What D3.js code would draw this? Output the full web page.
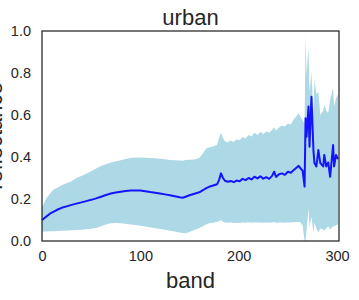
<!DOCTYPE html>
<html>
<head>
<meta charset="utf-8">
<script src="https://cdn.jsdelivr.net/npm/d3@7"></script>
<style>
  body { margin: 0; background: #fff; }
  text { font-family: "Liberation Sans", Arial, sans-serif; fill: #262626; }
</style>
</head>
<body>
<div id="chart"></div>
<script>
// band index, mean reflectance and the lower / upper edge of the shaded range
const bands = [0, 4, 8, 12, 16, 20, 25, 30, 35, 40, 45, 50, 55, 60, 65, 70, 75, 80, 85, 90, 95, 100,
  105, 110, 115, 120, 125, 130, 135, 140, 143, 146, 150, 155, 160, 164, 167, 170, 174, 178, 180,
  182, 184, 186, 189, 192, 195, 198, 201, 204, 207, 210, 213, 216, 219, 222, 225, 228, 231, 234,
  236, 238, 241, 244, 247, 250, 253, 256, 259, 261, 263, 265, 267, 268, 269, 271, 272, 274, 276,
  277, 279, 281, 283, 286, 287, 289, 291, 293, 296, 297, 299, 301];
const meanVals = [0.10, 0.115, 0.13, 0.14, 0.15, 0.158, 0.165, 0.172, 0.178, 0.184, 0.19, 0.196,
  0.203, 0.211, 0.219, 0.226, 0.231, 0.235, 0.238, 0.24, 0.241, 0.24, 0.237, 0.233, 0.23, 0.226,
  0.222, 0.218, 0.213, 0.208, 0.206, 0.211, 0.218, 0.225, 0.232, 0.243, 0.252, 0.258, 0.264, 0.27,
  0.29, 0.322, 0.30, 0.287, 0.282, 0.286, 0.28, 0.288, 0.284, 0.296, 0.29, 0.30, 0.293, 0.306,
  0.298, 0.308, 0.297, 0.304, 0.296, 0.31, 0.33, 0.305, 0.318, 0.322, 0.315, 0.33, 0.325, 0.338,
  0.35, 0.358, 0.345, 0.335, 0.259, 0.584, 0.497, 0.64, 0.449, 0.687, 0.433, 0.371, 0.355, 0.433,
  0.371, 0.355, 0.41, 0.355, 0.374, 0.306, 0.457, 0.355, 0.41, 0.39];
const lowVals = [0.045, 0.045, 0.046, 0.047, 0.048, 0.049, 0.05, 0.051, 0.052, 0.054, 0.056, 0.058,
  0.062, 0.07, 0.078, 0.085, 0.086, 0.084, 0.082, 0.079, 0.076, 0.073, 0.069, 0.065, 0.061, 0.057,
  0.053, 0.049, 0.045, 0.041, 0.038, 0.037, 0.043, 0.052, 0.062, 0.072, 0.08, 0.085, 0.087, 0.09,
  0.095, 0.10, 0.092, 0.088, 0.087, 0.088, 0.086, 0.087, 0.086, 0.088, 0.087, 0.089, 0.087, 0.089,
  0.088, 0.088, 0.087, 0.088, 0.087, 0.088, 0.09, 0.087, 0.088, 0.088, 0.087, 0.088, 0.088, 0.089,
  0.09, 0.09, 0.088, 0.075, 0.0, 0.0, 0.052, 0.156, 0.068, 0.116, 0.04, 0.087, 0.06, 0.04, 0.06,
  0.055, 0.05, 0.06, 0.07, 0.055, 0.07, 0.07, 0.075, 0.08];
const highVals = [0.16, 0.20, 0.225, 0.245, 0.255, 0.265, 0.275, 0.285, 0.30, 0.31, 0.32, 0.332,
  0.345, 0.357, 0.366, 0.374, 0.38, 0.385, 0.39, 0.395, 0.398, 0.398, 0.396, 0.395, 0.394, 0.392,
  0.389, 0.386, 0.384, 0.383, 0.382, 0.386, 0.387, 0.388, 0.395, 0.42, 0.44, 0.445, 0.45, 0.458,
  0.49, 0.515, 0.49, 0.475, 0.47, 0.478, 0.472, 0.485, 0.48, 0.495, 0.488, 0.505, 0.498, 0.515,
  0.505, 0.52, 0.51, 0.522, 0.515, 0.53, 0.54, 0.525, 0.54, 0.55, 0.545, 0.56, 0.555, 0.58, 0.595,
  0.608, 0.59, 0.575, 0.56, 0.98, 0.79, 0.925, 0.71, 0.80, 0.61, 0.767, 0.70, 0.71, 0.60, 0.62,
  0.65, 0.62, 0.61, 0.67, 0.73, 0.64, 0.68, 0.70];
const xTicks = [0, 100, 200, 300];
const yTicks = [0, 0.2, 0.4, 0.6, 0.8, 1.0];

const width = 359, height = 300;
const margin = { top: 31, right: 20, bottom: 59, left: 42 };

const data = bands.map((b, i) => ({ band: b, mean: meanVals[i], lo: lowVals[i], hi: highVals[i] }));

const svg = d3.select('#chart').append('svg')
  .attr('width', width)
  .attr('height', height);

const x = d3.scaleLinear()
  .domain([0, 302])
  .range([margin.left, width - margin.right]);

const y = d3.scaleLinear()
  .domain([0, 1])
  .range([height - margin.bottom, margin.top]);

svg.append('path')
  .datum(data)
  .attr('fill', '#add8e6')
  .attr('d', d3.area().x(d => x(d.band)).y0(d => y(d.lo)).y1(d => y(d.hi)));

svg.append('path')
  .datum(data)
  .attr('fill', 'none')
  .attr('stroke', '#1414ff')
  .attr('stroke-width', 2)
  .attr('stroke-linejoin', 'round')
  .attr('d', d3.line().x(d => x(d.band)).y(d => y(d.mean)));

// frame
svg.append('rect')
  .attr('x', margin.left)
  .attr('y', margin.top)
  .attr('width', width - margin.right - margin.left)
  .attr('height', height - margin.bottom - margin.top)
  .attr('fill', 'none')
  .attr('stroke', '#262626')
  .attr('stroke-width', 1.25);

svg.append('g')
  .attr('transform', `translate(0,${height - margin.bottom})`)
  .call(d3.axisBottom(x).tickValues(xTicks).tickSize(0).tickPadding(10).tickFormat(d3.format('d')))
  .call(g => g.select('.domain').remove())
  .call(g => g.selectAll('text').attr('font-size', 14.5).attr('fill', '#262626')
    .attr('font-family', '"Liberation Sans", Arial, sans-serif'));

svg.append('g')
  .attr('transform', `translate(${margin.left},0)`)
  .call(d3.axisLeft(y).tickValues(yTicks).tickSize(0).tickPadding(11).tickFormat(d3.format('.1f')))
  .call(g => g.select('.domain').remove())
  .call(g => g.selectAll('text').attr('font-size', 14.5).attr('fill', '#262626')
    .attr('font-family', '"Liberation Sans", Arial, sans-serif'));

const cx = (margin.left + width - margin.right) / 2;

svg.append('text')
  .attr('x', cx)
  .attr('y', 25)
  .attr('text-anchor', 'middle')
  .attr('font-size', 22)
  .text('urban');

svg.append('text')
  .attr('x', cx)
  .attr('y', 288)
  .attr('text-anchor', 'middle')
  .attr('font-size', 22)
  .text('band');

// the y label sits mostly off the left edge, as in the original
svg.append('text')
  .attr('transform', `translate(2,${(margin.top + height - margin.bottom) / 2}) rotate(-90)`)
  .attr('text-anchor', 'middle')
  .attr('font-size', 22)
  .text('reflectance');
</script>
</body>
</html>
